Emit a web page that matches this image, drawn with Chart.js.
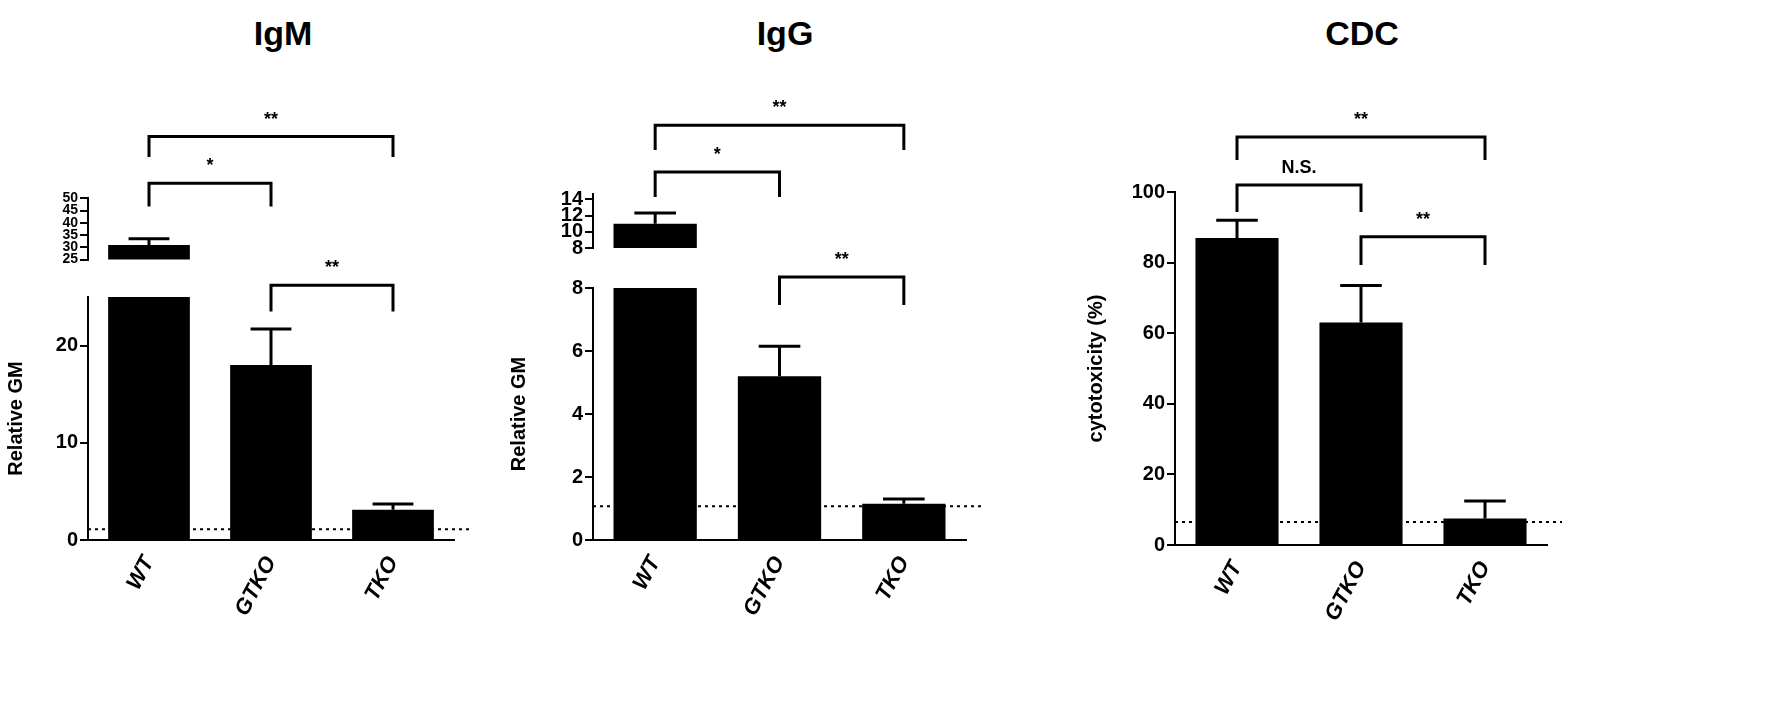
<!DOCTYPE html>
<html><head><meta charset="utf-8">
<script src="https://cdn.jsdelivr.net/npm/chart.js@4"></script>
<style>
body{margin:0;background:#fff;width:1772px;height:716px;position:relative;overflow:hidden}
.w{position:absolute}
.t{position:absolute;font-family:'Liberation Sans Narrow','Liberation Sans',Arial,sans-serif;font-weight:bold;font-size:34px;transform:translateX(-50%)}
</style></head><body>
<div class="t" style="left:283px;top:14px">IgM</div>
<div class="t" style="left:785px;top:14px">IgG</div>
<div class="t" style="left:1362px;top:14px">CDC</div>
<script>
const categories=['WT','GTKO','TKO'];
const igmValues=[31,18,3.1];
const igmErrors=[2.5,3.7,0.6];
const iggValues=[11.0,5.2,1.15];
const iggErrors=[1.3,0.95,0.15];
const cdcValues=[87,63,7.5];
const cdcErrors=[5,10.5,5];
const igmBaseline=1.1, iggBaseline=1.07, cdcBaseline=6.5;
const igmBrackets=[[0,2,41.5,39.4,'**'],[0,1,36.7,34.3,'*'],[1,2,26.2,23.5,'**']];
const iggBrackets=[[0,2,13.17,12.38,'**'],[0,1,11.68,10.89,'*'],[1,2,8.35,7.46,'**']];
const cdcBrackets=[[0,2,115.6,109.1,'**'],[0,1,102,94.3,'N.S.'],[1,2,87.3,79.3,'**']];

const FONT="'Liberation Sans Narrow','Liberation Sans',Arial,sans-serif";
const extras={id:'extras',afterDatasetsDraw(chart){
  const o=chart.options.plugins.extras||{};const ctx=chart.ctx;const x=chart.scales.x,y=chart.scales.y;const a=chart.chartArea;
  ctx.save();ctx.strokeStyle='#000';ctx.fillStyle='#000';
  const meta=chart.getDatasetMeta(0);
  (o.errors||[]).forEach((e,i)=>{const v=chart.data.datasets[0].data[i];
    if(v>y.max||v<y.min)return;const bar=meta.data[i];const px=bar.x,p0=y.getPixelForValue(v),p1=y.getPixelForValue(v+e);
    ctx.lineWidth=3;ctx.beginPath();ctx.moveTo(px,p0);ctx.lineTo(px,p1);ctx.moveTo(px-bar.width*0.25,p1);ctx.lineTo(px+bar.width*0.25,p1);ctx.stroke();});
  if(o.baseline!=null){const py=y.getPixelForValue(o.baseline);ctx.setLineDash([3,4]);ctx.lineWidth=2;ctx.beginPath();ctx.moveTo(a.left,py);ctx.lineTo(a.right+15,py);ctx.stroke();ctx.setLineDash([]);}
  (o.brackets||[]).forEach(b=>{const x0=x.getPixelForValue(b[0]),x1=x.getPixelForValue(b[1]);const yt=y.getPixelForValue(b[2]),yb=y.getPixelForValue(b[3]);
    ctx.lineWidth=3;ctx.beginPath();ctx.moveTo(x0,yb);ctx.lineTo(x0,yt);ctx.lineTo(x1,yt);ctx.lineTo(x1,yb);ctx.stroke();
    ctx.font='bold 18px '+FONT;ctx.textAlign='center';ctx.textBaseline='bottom';ctx.fillText(b[4],(x0+x1)/2,yt-8);});
  ctx.restore();}};

function makeChart(sp){
  const yW=sp.yW, xH=sp.lower?130:0, padTop=sp.padTop||0;
  const W=sp.right-sp.left,H=sp.bottom-sp.top;
  const d=document.createElement('div');d.className='w';
  d.style.left=(sp.left-yW)+'px';d.style.top=(sp.top-padTop)+'px';
  d.style.width=(yW+W+30)+'px';d.style.height=(padTop+H+xH)+'px';
  const c=document.createElement('canvas');d.appendChild(c);document.body.appendChild(d);
  new Chart(c,{type:'bar',data:{labels:categories,datasets:[{data:sp.values,backgroundColor:'#000',borderWidth:0,categoryPercentage:1,barPercentage:0.67}]},
  options:{responsive:true,maintainAspectRatio:false,animation:false,
   layout:{autoPadding:false,padding:{top:padTop,right:30,left:0,bottom:0}},
   plugins:{legend:{display:false},tooltip:{enabled:false},extras:{errors:sp.errors,baseline:sp.baseline,brackets:sp.brackets}},
   scales:{
    x:{display:!!sp.lower,afterFit:s=>{s.height=xH;},grid:{display:false},border:{color:'#000',width:2},
       ticks:{color:'#000',font:{family:FONT,weight:'bold',style:'italic',size:22},maxRotation:62,minRotation:62,padding:4,autoSkip:false}},
    y:{min:sp.min,max:sp.max,afterFit:s=>{s.width=yW;},border:{color:'#000',width:2},
       grid:{display:true,drawOnChartArea:false,drawTicks:true,tickLength:8,color:'#000',lineWidth:2},
       afterBuildTicks:s=>{s.ticks=sp.ticks.map(v=>({value:v}));},
       ticks:{color:'#000',font:{family:FONT,weight:'bold',size:sp.tickSize||20},padding:2,autoSkip:false},
       title:{display:!!sp.title,text:sp.title,color:'#000',font:{family:'Liberation Sans,Arial',weight:'bold',size:20}}}}},
  plugins:[extras]});
}
// IgM
makeChart({lower:true,left:88,right:454,top:297,bottom:540,padTop:200,yW:88,min:0,max:25,ticks:[0,10,20],values:igmValues,errors:igmErrors,baseline:igmBaseline,brackets:igmBrackets,title:'Relative GM'});
makeChart({left:88,right:454,top:188,bottom:270,yW:60,min:25,max:50,ticks:[25,30,35,40,45,50],tickSize:14,values:igmValues,errors:igmErrors});
// IgG
makeChart({lower:true,left:593,right:966,top:288,bottom:540,padTop:190,yW:90,min:0,max:8,ticks:[0,2,4,6,8],values:iggValues,errors:iggErrors,baseline:iggBaseline,brackets:iggBrackets,title:'Relative GM'});
makeChart({left:593,right:966,top:180,bottom:262,yW:60,min:8,max:14.65,ticks:[8,10,12,14],values:iggValues,errors:iggErrors});
// CDC
makeChart({lower:true,left:1175,right:1547,top:192,bottom:545,padTop:100,yW:95,min:0,max:100,ticks:[0,20,40,60,80,100],values:cdcValues,errors:cdcErrors,baseline:cdcBaseline,brackets:cdcBrackets,title:'cytotoxicity (%)'});
</script></body></html>
